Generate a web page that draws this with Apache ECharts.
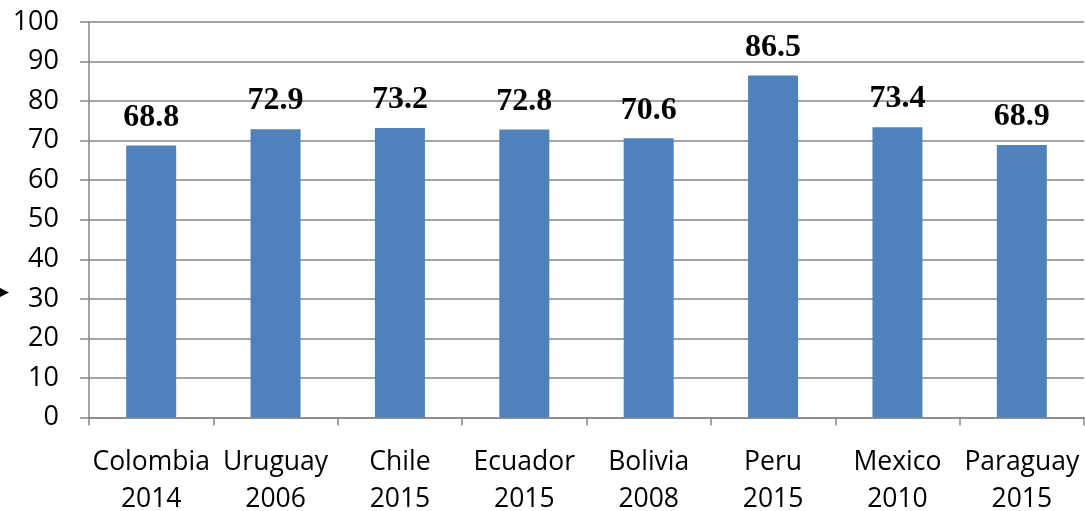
<!DOCTYPE html>
<html><head><meta charset="utf-8">
<script src="https://cdn.jsdelivr.net/npm/echarts@6/dist/echarts.min.js"></script>
<style>html,body{margin:0;padding:0;background:#fff}#c{width:1085px;height:511px}</style>
</head><body><div id="c"></div>
<script>
const categories = ['Colombia\n2014','Uruguay\n2006','Chile\n2015','Ecuador\n2015','Bolivia\n2008','Peru\n2015','Mexico\n2010','Paraguay\n2015'];
const values = [68.8, 72.9, 73.2, 72.8, 70.6, 86.5, 73.4, 68.9];
const yTicks = {min: 0, max: 100, interval: 10};

const chart = echarts.init(document.getElementById('c'));
chart.setOption({
  animation: false,
  grid: {left: 89, right: 1, top: 22, bottom: 93.5, containLabel: false, outerBoundsMode: 'none'},
  xAxis: {
    type: 'category', data: categories,
    axisLine: {lineStyle: {color: '#868686', width: 1.5}},
    axisTick: {show: true, alignWithLabel: false, length: 8, lineStyle: {color: '#868686', width: 1.5}},
    axisLabel: {color: '#000', fontFamily: 'Open Sans', fontSize: 26.5, lineHeight: 37, margin: 26, interval: 0}
  },
  yAxis: {
    type: 'value', min: yTicks.min, max: yTicks.max, interval: yTicks.interval,
    axisLine: {show: true, lineStyle: {color: '#868686', width: 1.5}},
    axisTick: {show: true, length: 9, lineStyle: {color: '#868686', width: 1.5}},
    splitLine: {lineStyle: {color: '#868686', width: 1.5}},
    axisLabel: {color: '#000', fontFamily: 'Open Sans', fontSize: 27, margin: 30}
  },
  series: [{
    type: 'bar', data: values, barWidth: 50,
    itemStyle: {color: '#4F81BD'},
    label: {show: true, position: 'top', distance: 12, color: '#000',
      fontFamily: 'Liberation Serif', fontWeight: 'bold', fontSize: 32,
      formatter: p => p.value.toFixed(1)}
  }],
  graphic: [{type: 'polygon', shape: {points: [[0,288],[9,292.5],[0,297]]}, style: {fill: '#000'}}]
});
</script></body></html>
